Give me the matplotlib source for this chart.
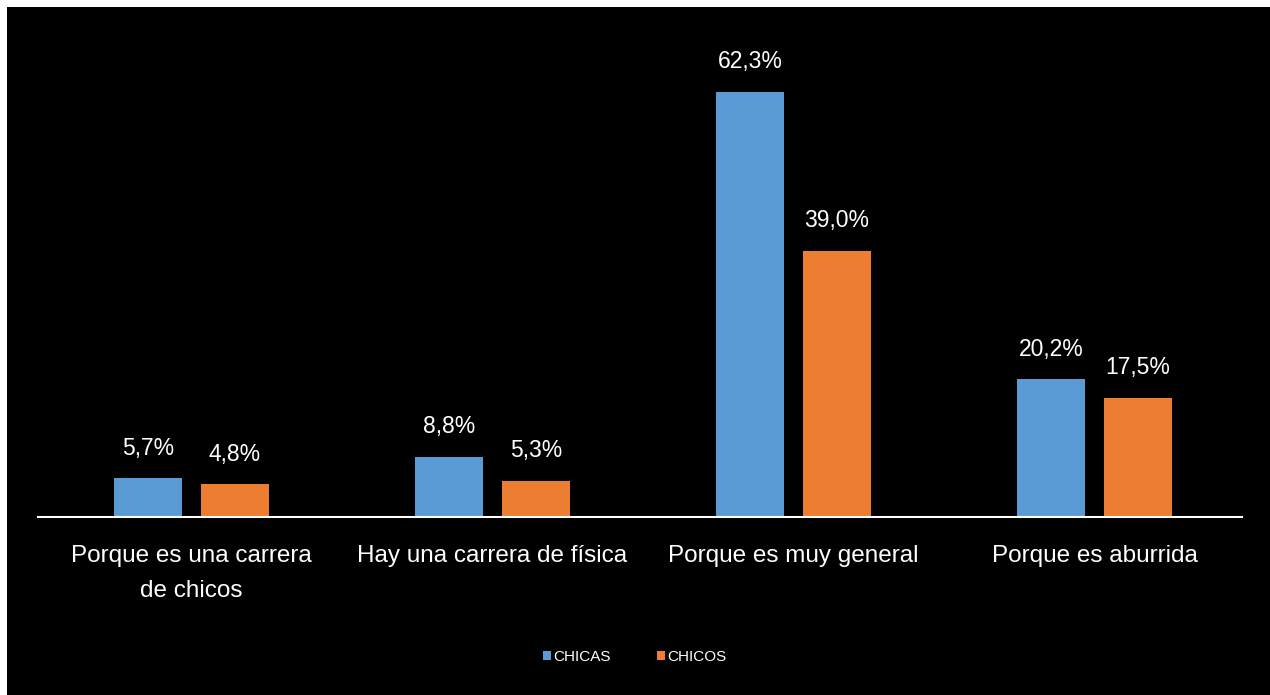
import matplotlib.pyplot as plt
import matplotlib.patches as mpatches
import numpy as np

categorias = ["Porque es una carrera\nde chicos", "Hay una carrera de física",
              "Porque es muy general", "Porque es aburrida"]
chicas = [5.7, 8.8, 62.3, 20.2]
chicos = [4.8, 5.3, 39.0, 17.5]
series = ["CHICAS", "CHICOS"]
azul = "#5b9bd5"
naranja = "#ed7d31"

fig = plt.figure(figsize=(12.7, 6.95), dpi=100, facecolor="white")
# black panel with thin white border on top and left
fig.patches.append(mpatches.Rectangle((7 / 1270, 0), 1, 1 - 7 / 695,
                                      transform=fig.transFigure,
                                      facecolor="black", edgecolor="none", zorder=-5))

ax = fig.add_axes([38 / 1270, 1 - 517 / 695, 1204 / 1270, 487 / 695])
ax.set_zorder(2)
ax.patch.set_visible(False)

x = np.arange(len(categorias))
off = 0.1445
w = 0.226
b1 = ax.bar(x - off, chicas, w, color=azul, label=series[0])
b2 = ax.bar(x + off, chicos, w, color=naranja, label=series[1])

for bars, vals in ((b1, chicas), (b2, chicos)):
    for r, v in zip(bars, vals):
        ax.annotate(f"{v:.1f}%".replace(".", ","),
                    (r.get_x() + r.get_width() / 2, v),
                    xytext=(0, 17), textcoords="offset points",
                    ha="center", va="baseline", color="white", fontsize=16.5,
                    family=["Liberation Sans", "DejaVu Sans"])

ax.set_xlim(-0.51, 3.49)
ax.set_ylim(0, 71.4)
ax.set_yticks([])
ax.set_xticks(x)
ax.set_xticklabels(categorias, color="white", fontsize=17.5,
                   family=["Liberation Sans", "DejaVu Sans"],
                   linespacing=1.75)
ax.tick_params(axis="x", length=0, pad=20)
for s in ("top", "right", "left"):
    ax.spines[s].set_visible(False)
ax.spines["bottom"].set_color("white")
ax.spines["bottom"].set_linewidth(1.5)

leg = fig.legend(handles=[b1, b2], loc="center", bbox_to_anchor=(0.5, 1 - 657 / 695),
                 ncol=2, frameon=False, handlelength=0.55,
                 handleheight=0.55, handletextpad=0.15, columnspacing=3.0,
                 prop={"family": ["Liberation Sans", "DejaVu Sans"], "size": 11})
for t in leg.get_texts():
    t.set_color("white")

fig.savefig("out.png", dpi=100, facecolor="white")
